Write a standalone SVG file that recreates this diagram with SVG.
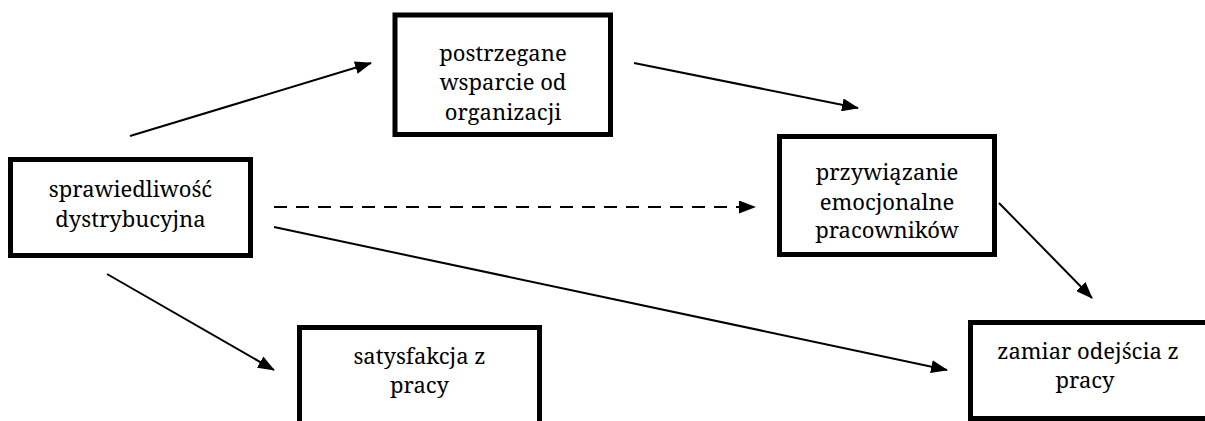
<svg xmlns="http://www.w3.org/2000/svg" width="1205" height="421" viewBox="0 0 1205 421">
  <style>
    .box { fill: #ffffff; stroke: #000000; stroke-width: 5; }
    .lbl { font-family: "Noto Serif", "DejaVu Serif", serif; font-size: 22px; fill: #000000; text-anchor: middle; }
    .edge { stroke: #000000; stroke-width: 2; fill: none; marker-end: url(#arrow); }
    .dashed { stroke-dasharray: 13 9; }
  </style>
  <defs>
    <marker id="arrow" markerUnits="userSpaceOnUse" viewBox="0 0 17 13" refX="16" refY="6.5" markerWidth="17" markerHeight="13" orient="auto">
      <path d="M0,0 L17,6.5 L0,13 Z" fill="#000000"/>
    </marker>
  </defs>
  <rect width="1205" height="421" fill="#ffffff"/>

  <g id="connectors">
    <line class="edge" x1="130" y1="136" x2="371" y2="63"/>
    <line class="edge" x1="634" y1="63" x2="858" y2="108"/>
    <line class="edge dashed" x1="274" y1="207" x2="755" y2="207"/>
    <line class="edge" x1="274" y1="227" x2="947" y2="370"/>
    <line class="edge" x1="107" y1="274" x2="274" y2="370"/>
    <line class="edge" x1="999" y1="203" x2="1092" y2="298"/>
  </g>

  <g id="node-sprawiedliwosc">
    <rect class="box" x="10.5" y="159.5" width="240" height="96"/>
    <text class="lbl" x="130.5" y="197">sprawiedliwość</text>
    <text class="lbl" x="130.5" y="227">dystrybucyjna</text>
  </g>

  <g id="node-wsparcie">
    <rect class="box" x="395" y="15" width="215.5" height="119.5"/>
    <text class="lbl" x="503" y="60.5">postrzegane</text>
    <text class="lbl" x="503" y="90">wsparcie od</text>
    <text class="lbl" x="503" y="119.5">organizacji</text>
  </g>

  <g id="node-przywiazanie">
    <rect class="box" x="779.5" y="136.5" width="215" height="118"/>
    <text class="lbl" x="887" y="180">przywiązanie</text>
    <text class="lbl" x="887" y="209.5">emocjonalne</text>
    <text class="lbl" x="887" y="238">pracowników</text>
  </g>

  <g id="node-zamiar">
    <rect class="box" x="970.5" y="322.5" width="260" height="96"/>
    <text class="lbl" x="1088" y="359">zamiar odejścia z</text>
    <text class="lbl" x="1085" y="388">pracy</text>
  </g>

  <g id="node-satysfakcja">
    <rect class="box" x="299.5" y="327.5" width="240" height="120"/>
    <text class="lbl" x="419.5" y="364">satysfakcja z</text>
    <text class="lbl" x="419.5" y="393">pracy</text>
  </g>
</svg>
